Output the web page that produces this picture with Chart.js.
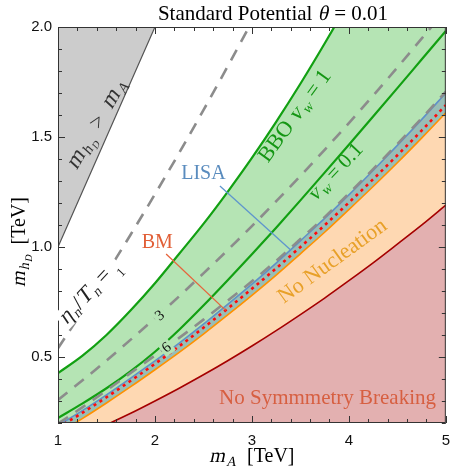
<!DOCTYPE html>
<html><head><meta charset="utf-8">
<script src="https://cdn.jsdelivr.net/npm/chart.js@4"></script>
<style>html,body{margin:0;padding:0;background:#fff;}canvas{display:block;}</style>
</head><body>
<canvas id="c" width="459" height="473"></canvas>
<script>
// x grid: m_A [TeV]
const mA      = [1.0, 1.25, 1.5, 1.75, 2.0, 2.25, 2.5, 2.75, 3.0, 3.25, 3.5, 3.75, 4.0, 4.25, 4.5, 4.75, 5.0];
// m_hD [TeV] boundaries
const diagLine   = [1.0, 1.25, 1.5, 1.75, 2.0, null, null, null, null, null, null, null, null, null, null, null, null];
const bboVw1     = [0.427, 0.505, 0.60, 0.712, 0.835, 0.969, 1.105, 1.251, 1.405, 1.569, 1.742, 1.925, 2.116, 2.317, 2.527, 2.75, 2.975];
const bboVw01    = [0.223, 0.288, 0.358, 0.436, 0.524, 0.624, 0.734, 0.849, 0.967, 1.088, 1.212, 1.338, 1.465, 1.593, 1.722, 1.852, 1.982];
const etaOne     = [0.54, 0.707, 0.879, 1.057, 1.24, 1.428, 1.622, 1.821, 2.025, 2.234, null, null, null, null, null, null, null];
const etaThree   = [0.305, 0.393, 0.484, 0.579, 0.676, 0.776, 0.880, 0.986, 1.095, 1.208, 1.323, 1.442, 1.563, 1.688, 1.816, 1.947, 2.080];
const etaSix     = [0.197, 0.271, 0.348, 0.428, 0.507, 0.587, 0.670, 0.756, 0.844, 0.937, 1.036, 1.136, 1.243, 1.354, 1.468, 1.585, 1.706];
const lisaTop    = [0.189, 0.256, 0.328, 0.404, 0.482, 0.563, 0.649, 0.739, 0.831, 0.927, 1.028, 1.130, 1.237, 1.348, 1.462, 1.579, 1.70];
const bmLine     = [0.179, 0.246, 0.317, 0.392, 0.469, 0.549, 0.633, 0.720, 0.810, 0.903, 1.0, 1.099, 1.202, 1.308, 1.417, 1.529, 1.645];
const nucleation = [0.154, 0.220, 0.291, 0.365, 0.442, 0.521, 0.604, 0.691, 0.780, 0.872, 0.969, 1.067, 1.170, 1.275, 1.383, 1.495, 1.61];
const noSymBreak = [0.096, 0.142, 0.192, 0.244, 0.300, 0.358, 0.419, 0.483, 0.550, 0.620, 0.693, 0.768, 0.847, 0.928, 1.013, 1.099, 1.19];
// axis ticks
const xTickLabels = [1, 2, 3, 4, 5];
const yTickLabels = [0.5, 1.0, 1.5, 2.0];

const pts = arr => mA.map((x, i) => ({x: x, y: arr[i]}));
const GREEN_FILL = 'rgb(181,228,180)';

const base = {pointRadius: 0, pointHoverRadius: 0, cubicInterpolationMode: 'monotone', fill: false, borderJoinStyle: 'round'};
const datasets = [
  Object.assign({}, base, {label: 'BM', data: pts(bmLine), borderColor: 'rgb(255,10,10)', borderWidth: 2.6, borderDash: [3, 4]}),             // 0
  Object.assign({}, base, {label: 'eta6', data: pts(etaSix), borderColor: 'rgb(140,140,140)', borderWidth: 2.6, borderDash: [12, 9]}),      // 1
  Object.assign({}, base, {label: 'eta3', data: pts(etaThree), borderColor: 'rgb(140,140,140)', borderWidth: 2.6, borderDash: [12, 9]}),    // 2
  Object.assign({}, base, {label: 'eta1', data: pts(etaOne), borderColor: 'rgb(140,140,140)', borderWidth: 2.6, borderDash: [12, 9]}),      // 3
  Object.assign({}, base, {label: 'LISA', data: pts(lisaTop), borderColor: 'rgb(95,145,200)', borderWidth: 1.6, fill: 5, backgroundColor: 'rgb(152,190,182)'}), // 4
  Object.assign({}, base, {label: 'nuc', data: pts(nucleation), borderColor: 'rgb(255,145,0)', borderWidth: 1.6, fill: 7, backgroundColor: 'rgb(254,216,178)'}), // 5
  Object.assign({}, base, {label: 'vw01', data: pts(bboVw01), borderColor: 'rgb(18,160,18)', borderWidth: 2.2}),                            // 6
  Object.assign({}, base, {label: 'nsb', data: pts(noSymBreak), borderColor: 'rgb(165,0,0)', borderWidth: 1.6, fill: 'start', backgroundColor: 'rgb(227,176,176)'}), // 7
  Object.assign({}, base, {label: 'bbo', data: pts(bboVw1), borderColor: 'rgb(18,160,18)', borderWidth: 2.2, fill: 4, backgroundColor: GREEN_FILL}), // 8
  Object.assign({}, base, {label: 'diag', data: pts(diagLine), borderColor: 'rgb(85,85,85)', borderWidth: 1.2, fill: 'end', backgroundColor: 'rgb(204,204,204)', cubicInterpolationMode: 'default', tension: 0})  // 9
];

const SERIF = '"Liberation Serif", "Times New Roman", serif';
// run: {t: text, s: size, i: italic, dy: baseline shift}
function runsWidth(ctx, runs) {
  let w = 0;
  for (const r of runs) { ctx.font = r.s + 'px ' + SERIF; r.w = ctx.measureText(r.t).width + (r.i ? r.s * 0.06 : 0); w += r.w; }
  return w;
}
function drawRuns(ctx, runs, cx, cy, angle, color, mask) {
  const total = runsWidth(ctx, runs);
  ctx.save();
  ctx.translate(cx, cy);
  ctx.rotate(angle * Math.PI / 180);
  if (mask) { ctx.fillStyle = mask; ctx.fillRect(-total / 2 - 2, -10, total + 4, 21); }
  ctx.fillStyle = color;
  ctx.textBaseline = 'alphabetic';
  ctx.textAlign = 'left';
  let x = -total / 2;
  for (const r of runs) {
    ctx.font = r.s + 'px ' + SERIF;
    const by = 6 + (r.dy || 0);
    if (r.i) {
      ctx.save();
      ctx.translate(x, by);
      ctx.transform(1, 0, -0.22, 1, 0, 0);
      ctx.fillText(r.t, 0, 0);
      ctx.restore();
    } else {
      ctx.fillText(r.t, x, by);
    }
    x += r.w;
  }
  ctx.restore();
}

const decor = {
  id: 'decor',
  afterDatasetsDraw(chart) {
    const ctx = chart.ctx, ca = chart.chartArea;
    const xs = chart.scales.x, ys = chart.scales.y;
    const X = v => xs.getPixelForValue(v), Y = v => ys.getPixelForValue(v);
    // leader lines
    ctx.save();
    ctx.lineWidth = 1.3;
    ctx.strokeStyle = 'rgb(95,150,205)';
    ctx.beginPath(); ctx.moveTo(X(2.67), Y(1.277)); ctx.lineTo(X(3.4), Y(0.986)); ctx.stroke();
    ctx.strokeStyle = 'rgb(230,100,60)';
    ctx.beginPath(); ctx.moveTo(X(2.115), Y(0.968)); ctx.lineTo(X(2.73), Y(0.712)); ctx.stroke();
    ctx.restore();
    // contour labels with masks
    const lbl = (txt, vx, vy) => {
      ctx.save();
      ctx.translate(X(vx), Y(vy));
      ctx.rotate(-38 * Math.PI / 180);
      ctx.fillStyle = GREEN_FILL;
      ctx.fillRect(-6, -8, 12, 16);
      ctx.fillStyle = '#111';
      ctx.font = '15px ' + SERIF;
      ctx.textAlign = 'center';
      ctx.textBaseline = 'middle';
      ctx.fillText(txt, 0, 1);
      ctx.restore();
    };
    lbl('3', 2.045, 0.691);
    lbl('6', 2.116, 0.545);
    // frame
    ctx.save();
    ctx.strokeStyle = '#333';
    ctx.lineWidth = 1;
    ctx.strokeRect(ca.left + 0.5, ca.top + 0.5, ca.right - ca.left - 1, ca.bottom - ca.top - 1);
    ctx.beginPath();
    for (let i = 0; i <= 20; i++) {
      const v = 1 + i * 0.2, px = Math.round(X(v)) + 0.5, len = (i % 5 === 0) ? 7 : 4;
      ctx.moveTo(px, ca.bottom); ctx.lineTo(px, ca.bottom - len);
      ctx.moveTo(px, ca.top); ctx.lineTo(px, ca.top + len);
    }
    for (let i = 0; i <= 18; i++) {
      const v = 0.2 + i * 0.1, py = Math.round(Y(v)) + 0.5, len = ((i + 2) % 5 === 0) ? 7 : 4;
      ctx.moveTo(ca.left, py); ctx.lineTo(ca.left + len, py);
      ctx.moveTo(ca.right, py); ctx.lineTo(ca.right - len, py);
    }
    ctx.stroke();
    ctx.restore();

    // region/curve labels
    drawRuns(ctx, [{t: 'm', s: 23, i: true}, {t: 'h', s: 15, i: true, dy: 4}, {t: 'D', s: 10, i: true, dy: 7},
                   {t: '  >  ', s: 22}, {t: 'm', s: 23, i: true}, {t: 'A', s: 15, i: true, dy: 4}],
             X(1.40), Y(1.56), -60, '#333');
    drawRuns(ctx, [{t: 'BBO ', s: 22}, {t: 'v', s: 22, i: true}, {t: 'w', s: 14, i: true, dy: 4}, {t: ' = 1', s: 22}],
             X(3.444), Y(1.595), -54, 'rgb(20,150,20)');
    drawRuns(ctx, [{t: 'v', s: 21, i: true}, {t: 'w', s: 14, i: true, dy: 4}, {t: ' = 0.1', s: 21}],
             X(3.86), Y(1.341), -47, 'rgb(20,150,20)');
    drawRuns(ctx, [{t: 'η', s: 22, i: true}, {t: 'n', s: 14, i: true, dy: 4}, {t: '/', s: 22}, {t: 'T', s: 22, i: true},
                   {t: 'n', s: 14, i: true, dy: 4}, {t: ' = ', s: 22}, {t: '1', s: 13, dy: 8}],
             X(1.32), Y(0.795), -47, '#222', '#ffffff');
    drawRuns(ctx, [{t: 'LISA', s: 20}], X(2.50), Y(1.336), 0, 'rgb(90,140,190)');
    drawRuns(ctx, [{t: 'BM', s: 20}], X(2.024), Y(1.023), 0, 'rgb(225,95,55)');
    drawRuns(ctx, [{t: 'No Nucleation', s: 22}], X(3.83), Y(0.935), -36, 'rgb(232,160,40)');
    drawRuns(ctx, [{t: 'No Symmmetry Breaking', s: 21}], X(3.78), Y(0.314), 0, 'rgb(215,95,65)');
  },
  afterDraw(chart) {
    const ctx = chart.ctx, ca = chart.chartArea;
    drawRuns(ctx, [{t: 'Standard Potential ', s: 21}, {t: 'θ', s: 21, i: true}, {t: ' = 0.01', s: 21}],
             273, 14, 0, '#000');
    drawRuns(ctx, [{t: 'm', s: 20, i: true}, {t: 'A', s: 14, i: true, dy: 4}, {t: '  [TeV]', s: 20}],
             (ca.left + ca.right) / 2, 456, 0, '#000');
    drawRuns(ctx, [{t: 'm', s: 20, i: true}, {t: 'h', s: 14, i: true, dy: 4}, {t: 'D', s: 10, i: true, dy: 7}, {t: '  [TeV]', s: 20}],
             19, 242, -90, '#000');
  }
};

new Chart(document.getElementById('c'), {
  type: 'line',
  data: {datasets: datasets},
  options: {
    responsive: false,
    animation: false,
    devicePixelRatio: 1,
    layout: {padding: {left: 0, top: 27, right: 7, bottom: 0}},
    plugins: {legend: {display: false}, tooltip: {enabled: false}, filler: {drawTime: 'beforeDatasetsDraw'}},
    scales: {
      x: {
        type: 'linear', min: 1, max: 5,
        afterBuildTicks: s => { s.ticks = xTickLabels.map(v => ({value: v})); },
        afterFit: s => { s.height = 50; },
        grid: {display: false, drawTicks: false}, border: {display: false},
        ticks: {padding: 9, color: '#111', font: {family: '"Liberation Sans", Arial, sans-serif', size: 15}, callback: v => String(v)}
      },
      y: {
        type: 'linear', min: 0.2, max: 2.0,
        afterBuildTicks: s => { s.ticks = yTickLabels.map(v => ({value: v})); },
        afterFit: s => { s.width = 58; },
        grid: {display: false, drawTicks: false}, border: {display: false},
        ticks: {padding: 6, color: '#111', font: {family: '"Liberation Sans", Arial, sans-serif', size: 15}, callback: v => Number(v).toFixed(1)}
      }
    }
  },
  plugins: [decor]
});
</script>
</body></html>
